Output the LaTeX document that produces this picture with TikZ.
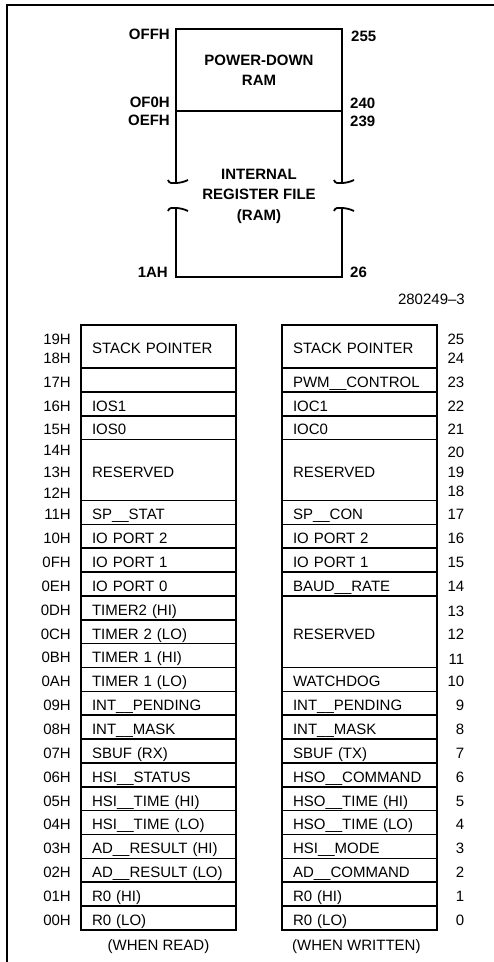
\documentclass[tikz,border=0pt]{standalone}
\usepackage{fontspec}
\setmainfont{Liberation Sans}
\usetikzlibrary{positioning}

\begin{document}
\begin{tikzpicture}[
    x=1pt, y=-1pt,
    node distance=0pt,
    regrow/.style={rectangle, draw, line width=1.6pt, outer sep=0pt, minimum width=155pt, minimum height=23.85pt, text width=133pt, inner xsep=11pt, inner ysep=0pt, align=left, text height=14.7pt, text depth=0pt, font=\fontsize{15}{19}\selectfont},
    addr/.style={inner sep=0pt, text height=14.7pt, text depth=0pt, font=\fontsize{15}{19}\selectfont},
    num/.style={addr, text width=20pt, align=right},
    memlbl/.style={inner sep=0pt, text height=10.7pt, text depth=0pt, font=\fontsize{15}{19}\selectfont\bfseries},
    memline/.style={line width=1.8pt}
]
\useasboundingbox (0,0) rectangle (494,962);

% page frame
\draw[line width=2pt] (7,962) -- (7,5) -- (494,5);

% memory map
\node[draw, memline, outer sep=0pt, minimum width=166pt, minimum height=82pt, align=center, font=\fontsize{15}{20}\selectfont\bfseries] (pdram) at (259,70) {POWER-DOWN\\RAM};
\node[align=center, font=\fontsize{15}{20.5}\selectfont\bfseries] (rffile) at (259,196) {INTERNAL\\REGISTER FILE\\(RAM)};
\coordinate (rfbl) at (176,277);
\coordinate (rfbr) at (342,277);
\coordinate (lbrkA) at (176,183);
\coordinate (lbrkB) at (176,208);
\coordinate (rbrkA) at (342,183);
\coordinate (rbrkB) at (342,208);

\draw[memline] (pdram.south west) -- (lbrkA);
\draw[memline] (lbrkB) -- (rfbl) -- (rfbr) -- (rbrkB);
\draw[memline] (rbrkA) -- (pdram.south east);
\draw[memline, shift={(lbrkA)}] (-8,-3) .. controls (-7,1) and (-3,0) .. (0,0) .. controls (3,0) and (8,-1) .. (12,-3);
\draw[memline, shift={(rbrkA)}] (-8,-3) .. controls (-7,1) and (-3,0) .. (0,0) .. controls (3,0) and (8,-1) .. (12,-3);
\draw[memline, shift={(lbrkB)}] (-8,3) .. controls (-7,-1) and (-3,0) .. (0,0) .. controls (3,0) and (8,1) .. (12,3);
\draw[memline, shift={(rbrkB)}] (-8,3) .. controls (-7,-1) and (-3,0) .. (0,0) .. controls (3,0) and (8,1) .. (12,3);

\node[memlbl, left=6pt of pdram.north west, yshift=-5pt] (aOFF) {OFFH};
\node[memlbl, left=6pt of pdram.south west, yshift=9pt] (aOF0) {OF0H};
\node[memlbl, left=6pt of pdram.south west, yshift=-9pt] (aOEF) {OEFH};
\node[memlbl, left=8pt of rfbl, yshift=5pt] (a1A) {1AH};
\node[memlbl, right=9pt of pdram.north east, yshift=-7pt] (n255) {255};
\node[memlbl, right=8pt of pdram.south east, yshift=8pt] (n240) {240};
\node[memlbl, right=8pt of pdram.south east, yshift=-10pt] (n239) {239};
\node[memlbl, right=8pt of rfbr, yshift=5pt] (n26) {26};
\node[addr, text height=10.7pt, anchor=east] (figno) at (465,299) {280249--3};

% registers when read
\node[regrow, minimum height=43pt, anchor=north west] (rdSP) at (81,325) {STACK POINTER};
\node[regrow, below=of rdSP] (rd17) {};
\node[regrow, below=of rd17] (rd16) {IOS1};
\node[regrow, below=of rd16] (rd15) {IOS0};
\node[regrow, minimum height=61pt, below=of rd15] (rdRES) {RESERVED};
\node[regrow, below=of rdRES] (rd11) {SP\_\_STAT};
\node[regrow, below=of rd11] (rd10) {IO PORT 2};
\node[regrow, below=of rd10] (rd0F) {IO PORT 1};
\node[regrow, below=of rd0F] (rd0E) {IO PORT 0};
\node[regrow, below=of rd0E] (rd0D) {TIMER2 (HI)};
\node[regrow, below=of rd0D] (rd0C) {TIMER 2 (LO)};
\node[regrow, below=of rd0C] (rd0B) {TIMER 1 (HI)};
\node[regrow, below=of rd0B] (rd0A) {TIMER 1 (LO)};
\node[regrow, below=of rd0A] (rd09) {INT\_\_PENDING};
\node[regrow, below=of rd09] (rd08) {INT\_\_MASK};
\node[regrow, below=of rd08] (rd07) {SBUF (RX)};
\node[regrow, below=of rd07] (rd06) {HSI\_\_STATUS};
\node[regrow, below=of rd06] (rd05) {HSI\_\_TIME (HI)};
\node[regrow, below=of rd05] (rd04) {HSI\_\_TIME (LO)};
\node[regrow, below=of rd04] (rd03) {AD\_\_RESULT (HI)};
\node[regrow, below=of rd03] (rd02) {AD\_\_RESULT (LO)};
\node[regrow, below=of rd02] (rd01) {R0 (HI)};
\node[regrow, below=of rd01] (rd00) {R0 (LO)};
\node[addr, below=5.5pt of rd00] (rdnote) {(WHEN READ)};

\node[addr, left=10pt of rdSP, yshift=9.5pt] (a19) {19H};
\node[addr, left=10pt of rdSP, yshift=-9.5pt] (a18) {18H};
\node[addr, left=10pt of rd17] (a17) {17H};
\node[addr, left=10pt of rd16] (a16) {16H};
\node[addr, left=10pt of rd15] (a15) {15H};
\node[addr, left=10pt of rdRES, yshift=22pt] (a14) {14H};
\node[addr, left=10pt of rdRES] (a13) {13H};
\node[addr, left=10pt of rdRES, yshift=-21pt] (a12) {12H};
\node[addr, left=10pt of rd11] (a11) {11H};
\node[addr, left=10pt of rd10] (a10) {10H};
\node[addr, left=10pt of rd0F] (a0F) {0FH};
\node[addr, left=10pt of rd0E] (a0E) {0EH};
\node[addr, left=10pt of rd0D] (a0D) {0DH};
\node[addr, left=10pt of rd0C] (a0C) {0CH};
\node[addr, left=10pt of rd0B] (a0B) {0BH};
\node[addr, left=10pt of rd0A] (a0A) {0AH};
\node[addr, left=10pt of rd09] (a09) {09H};
\node[addr, left=10pt of rd08] (a08) {08H};
\node[addr, left=10pt of rd07] (a07) {07H};
\node[addr, left=10pt of rd06] (a06) {06H};
\node[addr, left=10pt of rd05] (a05) {05H};
\node[addr, left=10pt of rd04] (a04) {04H};
\node[addr, left=10pt of rd03] (a03) {03H};
\node[addr, left=10pt of rd02] (a02) {02H};
\node[addr, left=10pt of rd01] (a01) {01H};
\node[addr, left=10pt of rd00] (a00) {00H};

% registers when written
\node[regrow, minimum height=43pt, anchor=north west] (wrSP) at (282,325) {STACK POINTER};
\node[regrow, below=of wrSP] (wr23) {PWM\_\_CONTROL};
\node[regrow, below=of wr23] (wr22) {IOC1};
\node[regrow, below=of wr22] (wr21) {IOC0};
\node[regrow, minimum height=61pt, below=of wr21] (wrRES) {RESERVED};
\node[regrow, below=of wrRES] (wr17) {SP\_\_CON};
\node[regrow, below=of wr17] (wr16) {IO PORT 2};
\node[regrow, below=of wr16] (wr15) {IO PORT 1};
\node[regrow, below=of wr15] (wr14) {BAUD\_\_RATE};
\node[regrow, minimum height=71.55pt, below=of wr14] (wrRES2) {RESERVED};
\node[regrow, below=of wrRES2] (wr10) {WATCHDOG};
\node[regrow, below=of wr10] (wr09) {INT\_\_PENDING};
\node[regrow, below=of wr09] (wr08) {INT\_\_MASK};
\node[regrow, below=of wr08] (wr07) {SBUF (TX)};
\node[regrow, below=of wr07] (wr06) {HSO\_\_COMMAND};
\node[regrow, below=of wr06] (wr05) {HSO\_\_TIME (HI)};
\node[regrow, below=of wr05] (wr04) {HSO\_\_TIME (LO)};
\node[regrow, below=of wr04] (wr03) {HSI\_\_MODE};
\node[regrow, below=of wr03] (wr02) {AD\_\_COMMAND};
\node[regrow, below=of wr02] (wr01) {R0 (HI)};
\node[regrow, below=of wr01] (wr00) {R0 (LO)};
\node[addr, below right=5.5pt and 10pt of wr00.south west] (wrnote) {(WHEN WRITTEN)};

\node[num, right=7pt of wrSP, yshift=9.5pt] (n25) {25};
\node[num, right=7pt of wrSP, yshift=-9.5pt] (n24) {24};
\node[num, right=7pt of wr23] (n23) {23};
\node[num, right=7pt of wr22] (n22) {22};
\node[num, right=7pt of wr21] (n21) {21};
\node[num, right=7pt of wrRES, yshift=19.5pt] (n20) {20};
\node[num, right=7pt of wrRES] (n19) {19};
\node[num, right=7pt of wrRES, yshift=-19.5pt] (n18) {18};
\node[num, right=7pt of wr17] (n17) {17};
\node[num, right=7pt of wr16] (n16) {16};
\node[num, right=7pt of wr15] (n15) {15};
\node[num, right=7pt of wr14] (n14) {14};
\node[num, right=7pt of wrRES2, yshift=23pt] (n13) {13};
\node[num, right=7pt of wrRES2] (n12) {12};
\node[num, right=7pt of wrRES2, yshift=-25pt] (n11) {11};
\node[num, right=7pt of wr10] (n10) {10};
\node[num, right=7pt of wr09] (n9) {9};
\node[num, right=7pt of wr08] (n8) {8};
\node[num, right=7pt of wr07] (n7) {7};
\node[num, right=7pt of wr06] (n6) {6};
\node[num, right=7pt of wr05] (n5) {5};
\node[num, right=7pt of wr04] (n4) {4};
\node[num, right=7pt of wr03] (n3) {3};
\node[num, right=7pt of wr02] (n2) {2};
\node[num, right=7pt of wr01] (n1) {1};
\node[num, right=7pt of wr00] (n0) {0};

\end{tikzpicture}
\end{document}
